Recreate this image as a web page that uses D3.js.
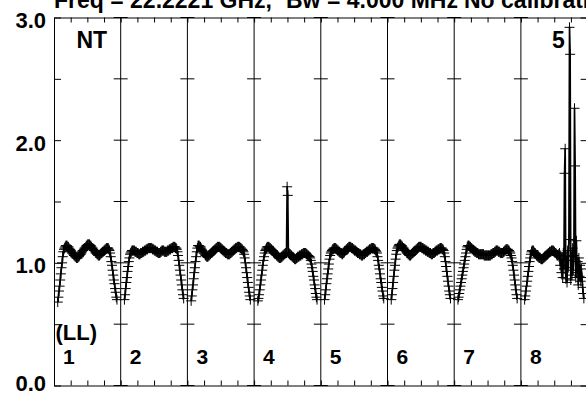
<!DOCTYPE html>
<html>
<head>
<meta charset="utf-8">
<script src="https://cdn.jsdelivr.net/npm/d3@7"></script>
<style>
  html, body { margin: 0; padding: 0; background: #fff; }
  svg { display: block; font-family: "Liberation Sans", Arial, Helvetica, sans-serif; font-weight: bold; }
</style>
</head>
<body>
<svg id="chart" width="586" height="396"></svg>
<script>
// Spectral windows (IFs) and the amplitude of each channel, 96 channels per window
const windows = [1, 2, 3, 4, 5, 6, 7, 8];

const amp1 = [0.68,0.72,0.77,0.81,0.86,0.91,0.96,1.00,1.05,1.09,
  1.11,1.12,1.13,1.14,1.14,1.14,
  1.13,1.13,1.12,1.11,1.11,1.10,1.09,1.08,1.08,1.07,1.06,1.06,1.05,1.05,1.04,1.04,1.04,
  1.05,1.05,1.06,1.07,1.07,1.08,1.09,1.10,1.10,1.11,1.12,1.12,1.13,1.14,1.14,1.15,1.15,1.15,
  1.15,1.14,1.14,1.13,1.12,1.12,1.11,1.10,1.10,1.09,1.08,1.08,1.07,1.07,1.06,1.06,
  1.06,1.07,1.07,1.08,1.08,1.09,1.09,1.10,1.10,1.11,1.11,1.12,1.12,1.12,
  1.12,1.11,1.10,
  1.08,1.05,1.01,0.98,0.94,0.90,0.86,0.83,0.79,0.76,0.72,0.70];

const amp2 = [0.70,0.74,0.79,0.84,0.88,0.93,0.97,1.01,1.04,1.07,
  1.08,1.09,1.10,1.10,1.10,1.10,
  1.10,1.09,1.09,1.09,1.08,1.08,1.08,1.07,1.07,
  1.07,1.08,1.08,1.08,1.09,1.09,1.09,1.10,1.10,1.10,1.11,1.11,1.11,1.12,1.12,1.12,1.12,1.12,1.12,
  1.12,1.11,1.11,1.11,1.10,1.10,1.10,1.09,1.09,1.09,1.08,1.08,1.08,
  1.08,1.09,1.09,1.10,1.10,1.10,1.10,1.09,1.09,1.09,1.09,1.09,1.10,1.10,1.10,1.11,1.11,1.11,1.12,1.12,1.12,1.13,1.13,1.13,1.13,1.12,1.12,1.11,
  1.09,1.06,1.02,0.98,0.94,0.90,0.86,0.82,0.78,0.74,0.71];

const amp3 = [0.69,0.73,0.78,0.82,0.87,0.92,0.96,1.01,1.05,1.09,
  1.12,1.14,1.14,1.14,
  1.13,1.13,1.12,1.11,1.10,1.09,1.08,1.08,1.07,1.06,1.06,1.05,
  1.05,1.05,1.06,1.06,1.07,1.07,1.08,1.08,1.09,1.09,1.10,1.10,1.11,1.11,1.12,1.12,1.13,1.13,1.13,
  1.13,1.13,1.12,1.12,1.11,1.11,1.10,1.10,1.09,1.09,1.08,1.08,1.08,1.07,1.07,1.07,
  1.07,1.07,1.08,1.08,1.09,1.09,1.10,1.10,1.11,1.11,1.12,1.12,1.12,1.13,1.13,1.13,1.13,
  1.13,1.12,1.12,1.11,1.11,1.10,1.09,
  1.07,1.04,1.00,0.96,0.92,0.88,0.84,0.80,0.76,0.73,0.70];

const amp4 = [0.69,0.71,0.74,0.78,0.82,0.86,0.90,0.94,0.98,1.02,1.05,1.08,
  1.10,1.11,1.12,1.13,1.13,1.13,1.13,
  1.12,1.12,1.11,1.11,1.10,1.10,1.09,1.08,1.08,1.07,1.07,1.06,1.06,1.05,1.05,1.04,1.04,1.04,
  1.04,1.05,1.05,1.06,1.06,1.07,1.07,1.08,1.08,1.08,
  1.62,1.55,
  1.08,1.08,1.07,1.07,1.06,1.06,1.05,1.05,1.04,1.04,1.03,
  1.03,1.03,1.04,1.04,1.05,1.05,1.05,1.06,1.06,1.06,1.07,1.07,1.07,1.08,1.08,1.08,
  1.08,1.08,1.07,1.07,1.06,1.06,1.05,1.05,
  1.04,1.02,0.99,0.96,0.93,0.89,0.86,0.82,0.79,0.75,0.72,0.70];

const amp5 = [0.70,0.74,0.78,0.83,0.87,0.91,0.95,0.99,1.03,1.06,
  1.08,1.09,1.10,1.11,1.11,1.12,1.12,1.12,
  1.12,1.11,1.11,1.10,1.10,1.09,1.09,1.08,1.08,1.08,1.07,1.07,
  1.08,1.08,1.09,1.10,1.10,1.11,1.11,1.12,1.12,1.13,1.13,
  1.13,1.13,1.12,1.12,1.12,1.11,1.11,1.10,1.10,1.10,1.09,1.09,1.08,1.08,1.08,1.07,1.07,1.07,1.06,1.06,
  1.06,1.07,1.07,1.07,1.08,1.08,1.09,1.09,1.09,1.10,1.10,1.11,1.11,1.11,1.12,1.12,1.12,
  1.12,1.12,1.11,1.11,1.10,1.09,
  1.08,1.05,1.02,0.98,0.95,0.91,0.87,0.84,0.80,0.77,0.73,0.71];

const amp6 = [0.70,0.74,0.79,0.84,0.89,0.94,0.98,1.03,1.07,1.10,
  1.12,1.13,1.14,1.15,1.15,
  1.15,1.14,1.14,1.13,1.12,1.12,1.11,1.10,1.10,1.09,1.08,1.08,1.07,1.07,1.06,1.06,
  1.06,1.07,1.07,1.08,1.08,1.09,1.09,1.10,1.10,1.11,1.11,1.12,1.12,1.13,1.13,1.13,
  1.13,1.13,1.12,1.12,1.12,1.11,1.11,1.11,1.10,1.10,1.10,1.09,1.09,1.09,1.08,1.08,1.08,1.07,1.07,
  1.07,1.08,1.08,1.08,1.09,1.09,1.10,1.10,1.10,1.11,1.11,1.11,1.12,1.12,1.12,
  1.12,1.11,1.11,1.10,
  1.08,1.05,1.01,0.97,0.93,0.89,0.85,0.81,0.77,0.74,0.71];

const amp7 = [0.70,0.72,0.75,0.78,0.81,0.84,0.87,0.90,0.93,0.96,0.99,1.02,1.05,1.08,
  1.11,1.13,1.14,
  1.14,1.14,1.13,1.13,1.12,1.12,1.11,1.11,1.10,1.10,1.09,1.09,1.09,1.08,1.08,1.08,1.07,1.07,1.07,
  1.07,1.07,1.07,1.07,1.07,1.07,1.06,1.06,1.06,1.06,1.06,1.06,1.06,1.06,1.06,1.06,
  1.06,1.07,1.07,1.07,1.08,1.08,1.08,1.09,1.09,1.10,1.10,
  1.10,1.10,1.09,1.09,1.09,1.08,1.08,1.08,1.08,1.08,
  1.09,1.09,1.10,1.10,1.11,1.11,1.11,
  1.11,1.10,1.10,1.09,1.08,1.06,1.04,1.01,0.98,0.94,0.90,0.86,0.82,0.78,0.74,0.71];

const amp8 = [0.70,0.73,0.77,0.81,0.85,0.89,0.93,0.97,1.01,1.04,1.07,1.09,
  1.10,1.10,1.10,1.09,
  1.08,1.08,1.07,1.06,1.06,1.05,1.05,1.04,1.04,1.04,1.03,1.03,1.03,
  1.03,1.04,1.04,1.05,1.05,1.06,1.06,1.07,1.07,1.08,1.08,1.09,1.09,1.09,1.10,1.10,1.10,
  1.10,1.09,1.09,1.08,1.08,1.07,1.06,1.06,1.07,1.05,1.08,
  0.98,1.06,0.92,1.03,0.88,1.08,0.95,1.73,1.93,0.87,1.02,0.84,1.10,0.96,1.19,2.92,2.70,
  0.86,1.05,0.90,1.12,0.94,1.06,2.26,1.79,0.88,1.18,0.92,1.01,0.82,1.04,0.89,0.98,0.85,
  0.95,0.88,0.80,0.75,0.71];

const spectra = [amp1, amp2, amp3, amp4, amp5, amp6, amp7, amp8];

// Axis ticks
const yTickValues = [0, 0.5, 1, 1.5, 2, 2.5, 3];
const yTickLabels = ["0.0", "", "1.0", "", "2.0", "", "3.0"];
const xTickValues = d3.range(0, windows.length * 4 + 1).map(i => i / 4);

// Labels
const titleParts = ["Freq = 22.2221 GHz,", "Bw = 4.000 MHz", "No calibration applied"];
const sourceName = "NT";
const stokesLabel = "(LL)";
const baselineLabel = "5";

// Layout
const plot = { left: 54, top: 17.5, bottom: 385.5, winWidth: 66.7 };
plot.right = plot.left + windows.length * plot.winWidth;
const chanDomain = [-6, 101];
const crossHalfW = 5, crossHalfH = 5, boundaryTick = 7;

const svg = d3.select("#chart");

const xWin = d3.scaleLinear().domain([0, windows.length]).range([plot.left, plot.right]);
const y = d3.scaleLinear().domain([0, 3]).range([plot.bottom, plot.top]);

function styleAxis(g) {
  g.attr("font-family", null).attr("font-size", null);
  g.selectAll("path.domain").attr("stroke", "#000").attr("stroke-width", 1);
  g.selectAll(".tick line").attr("stroke", "#000").attr("stroke-width", 1);
}

// Left axis with value labels
svg.append("g")
  .attr("transform", `translate(${plot.left},0)`)
  .call(d3.axisLeft(y).tickValues(yTickValues).tickSize(-boundaryTick).tickSizeOuter(0)
    .tickPadding(8).tickFormat((d, i) => yTickLabels[i]))
  .call(styleAxis)
  .call(g => g.selectAll("text")
    .attr("font-size", 22).attr("fill", "#000")
    .attr("dy", d => d === 0 ? "0.22em" : "0.45em"));

// Right axis (ticks only)
svg.append("g")
  .attr("transform", `translate(${plot.right},0)`)
  .call(d3.axisRight(y).tickValues(yTickValues).tickSize(-boundaryTick).tickSizeOuter(0).tickFormat(""))
  .call(styleAxis);

// Top and bottom frame with quarter-window ticks
svg.append("g")
  .attr("transform", `translate(0,${plot.top})`)
  .call(d3.axisBottom(xWin).tickValues(xTickValues).tickSize(5).tickSizeOuter(0).tickFormat(""))
  .call(styleAxis);
svg.append("g")
  .attr("transform", `translate(0,${plot.bottom})`)
  .call(d3.axisTop(xWin).tickValues(xTickValues).tickSize(5).tickSizeOuter(0).tickFormat(""))
  .call(styleAxis);

// Window separators with crossing value ticks
const inner = windows.slice(1).map((d, i) => i + 1);
const sep = svg.append("g").attr("stroke", "#000").attr("stroke-width", 1);
sep.selectAll("line.sep").data(inner).join("line")
  .attr("class", "sep")
  .attr("x1", d => xWin(d)).attr("x2", d => xWin(d))
  .attr("y1", plot.top).attr("y2", plot.bottom);
sep.selectAll("g.cross").data(inner).join("g")
  .attr("class", "cross")
  .selectAll("line").data(d => yTickValues.map(v => ({ w: d, v })))
  .join("line")
  .attr("x1", d => xWin(d.w) - boundaryTick).attr("x2", d => xWin(d.w) + boundaryTick)
  .attr("y1", d => y(d.v)).attr("y2", d => y(d.v));

// Data clipped to the plot frame
svg.append("clipPath").attr("id", "frame")
  .append("rect")
  .attr("x", plot.left).attr("y", plot.top)
  .attr("width", plot.right - plot.left).attr("height", plot.bottom - plot.top);

const dataG = svg.append("g").attr("clip-path", "url(#frame)");
const line = d3.line();

spectra.forEach((vals, i) => {
  const xc = d3.scaleLinear().domain(chanDomain).range([xWin(i), xWin(i + 1)]);
  const pts = vals.map((v, c) => [xc(c), y(v)]);
  const crosses = pts.map(([px, py]) =>
    `M${px - crossHalfW},${py}H${px + crossHalfW}M${px},${py - crossHalfH}V${py + crossHalfH}`).join("");
  dataG.append("path")
    .attr("d", crosses)
    .attr("fill", "none").attr("stroke", "#000").attr("stroke-width", 1);
  dataG.append("path")
    .attr("d", line(pts))
    .attr("fill", "none").attr("stroke", "#000").attr("stroke-width", 1.7)
    .attr("stroke-linejoin", "round");
});

// Window numbers
svg.append("g").selectAll("text").data(windows).join("text")
  .attr("x", (d, i) => xWin(i) + 9)
  .attr("y", 363.5)
  .attr("font-size", 21)
  .attr("fill", "#000")
  .text(d => d);

// Source, polarization and baseline labels
svg.append("text").attr("x", 76.5).attr("y", 48.3).attr("font-size", 23).text(sourceName);
svg.append("text").attr("x", 552).attr("y", 48.3).attr("font-size", 23).text(baselineLabel);
svg.append("text").attr("x", 55.5).attr("y", 340).attr("font-size", 22).text(stokesLabel);

// Title line (runs past the top edge)
const title = svg.append("text").attr("y", 7.5).attr("font-size", 23).attr("fill", "#000");
title.append("tspan").attr("x", 54).text(titleParts[0]);
title.append("tspan").attr("x", 286).text(titleParts[1]);
title.append("tspan").attr("x", 464).text(titleParts[2]);
</script>
</body>
</html>
